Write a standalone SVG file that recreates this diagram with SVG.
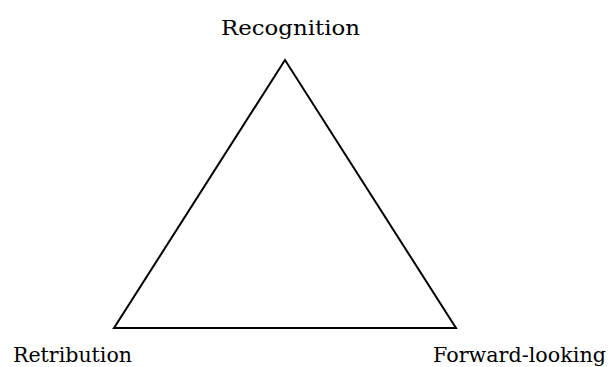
<svg xmlns="http://www.w3.org/2000/svg" width="609" height="367" viewBox="0 0 609 367">
<style>
.lbl{font-family:"DejaVu Serif","Liberation Serif",serif;font-size:20.5px;fill:#000}
.edge{fill:none;stroke:#000;stroke-width:2;stroke-linejoin:miter}
</style>
<rect width="609" height="367" fill="#fff"/>
<g id="connectors">
<polygon class="edge" points="285,60 114,328 456,328"/>
</g>
<g id="node-recognition"><text class="lbl" x="221" y="35" textLength="139" lengthAdjust="spacingAndGlyphs">Recognition</text></g>
<g id="node-retribution"><text class="lbl" x="13" y="362" textLength="119" lengthAdjust="spacingAndGlyphs">Retribution</text></g>
<g id="node-forward"><text class="lbl" x="433" y="362" textLength="173" lengthAdjust="spacingAndGlyphs">Forward-looking</text></g>
</svg>
